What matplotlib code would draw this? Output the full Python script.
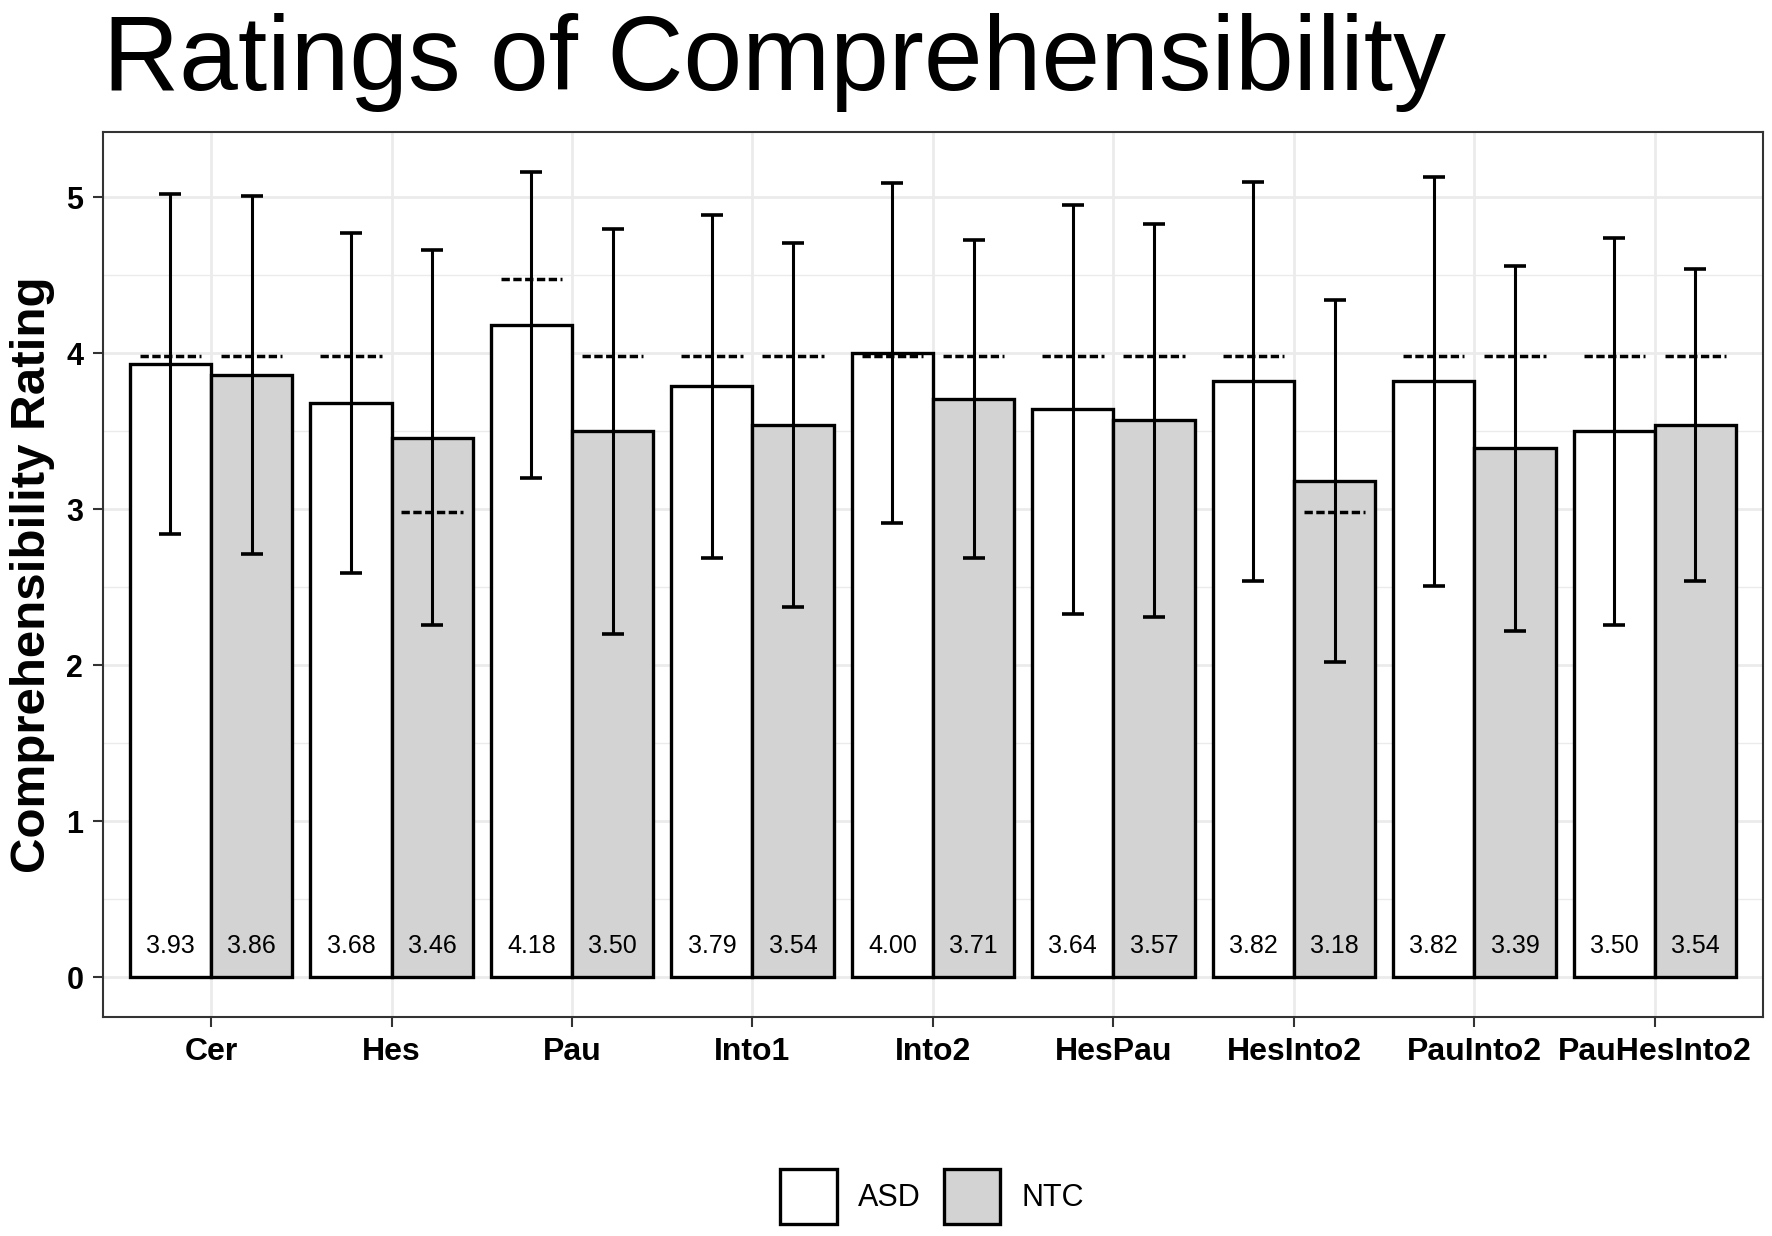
import matplotlib.pyplot as plt
import numpy as np
from matplotlib.patches import Patch

plt.rcParams['font.family'] = ['Liberation Sans', 'DejaVu Sans']

# data
conditions = ["Cer", "Hes", "Pau", "Into1", "Into2", "HesPau", "HesInto2", "PauInto2", "PauHesInto2"]
asd_mean = [3.93, 3.68, 4.18, 3.79, 4.00, 3.64, 3.82, 3.82, 3.50]
ntc_mean = [3.86, 3.46, 3.50, 3.54, 3.71, 3.57, 3.18, 3.39, 3.54]
asd_sd = [1.09, 1.09, 0.98, 1.10, 1.09, 1.31, 1.28, 1.31, 1.24]
ntc_sd = [1.15, 1.20, 1.30, 1.17, 1.02, 1.26, 1.16, 1.17, 1.00]
asd_median = [3.98, 3.98, 4.48, 3.98, 3.98, 3.98, 3.98, 3.98, 3.98]
ntc_median = [3.98, 2.98, 3.98, 3.98, 3.98, 3.98, 2.98, 3.98, 3.98]

groups = ["ASD", "NTC"]
fills = ["white", "#D3D3D3"]

fig = plt.figure(figsize=(17.72, 12.36), dpi=100)
ax = fig.add_axes([0.058, 0.177, 0.937, 0.716])

x = np.arange(len(conditions))
bw = 0.45

series = [(asd_mean, asd_sd, asd_median, -bw / 2), (ntc_mean, ntc_sd, ntc_median, bw / 2)]
for (m, s, med, off), fc in zip(series, fills):
    xs = x + off
    ax.bar(xs, m, width=bw, color=fc, edgecolor="black", linewidth=2.4, zorder=2)
    ax.errorbar(xs, m, yerr=s, fmt="none", ecolor="black", elinewidth=2.2,
                capsize=8, capthick=2.6, zorder=3)
    ax.hlines(med, xs - 0.17, xs + 0.17, colors="black", linewidth=2.5,
              linestyles=(0, (2.4, 1.0)), zorder=4)
    for xi, v in zip(xs, m):
        ax.text(xi, 0.2, f"{v:.2f}", ha="center", va="center", fontsize=18, zorder=5)

ax.set_xlim(-0.6, len(conditions) - 0.4)
ax.set_ylim(-0.258, 5.418)
ax.set_xticks(x)
ax.set_xticklabels(conditions, fontsize=23, fontweight="bold")
ax.set_yticks([0, 1, 2, 3, 4, 5])
ax.set_yticklabels(["0", "1", "2", "3", "4", "5"], fontsize=22, fontweight="bold")
ax.set_yticks(np.arange(0.5, 5.5, 1), minor=True)
ax.tick_params(axis="both", which="major", length=7, width=1.5, color="#333333", pad=7)
ax.tick_params(axis="y", which="minor", length=0)

ax.grid(True, which="major", color="#EBEBEB", linewidth=2.0, zorder=0)
ax.grid(True, which="minor", axis="y", color="#EBEBEB", linewidth=1.0, zorder=0)
ax.set_axisbelow(True)
for sp in ax.spines.values():
    sp.set_color("#333333")
    sp.set_linewidth(1.5)

ax.set_ylabel("Comprehensibility Rating", fontsize=35.5, fontweight="bold", labelpad=8)
fig.text(0.058, 0.927, "Ratings of Comprehensibility", fontsize=76, ha="left", va="baseline")

handles = [Patch(facecolor=fc, edgecolor="black", linewidth=2.4, label=g) for g, fc in zip(groups, fills)]
fig.legend(handles=handles, loc="center", bbox_to_anchor=(0.526, 0.032), ncol=2, frameon=False,
           fontsize=22, handlelength=1.86, handleheight=2.4, handletextpad=0.7, columnspacing=0.75)

fig.savefig("out.png", dpi=100)
